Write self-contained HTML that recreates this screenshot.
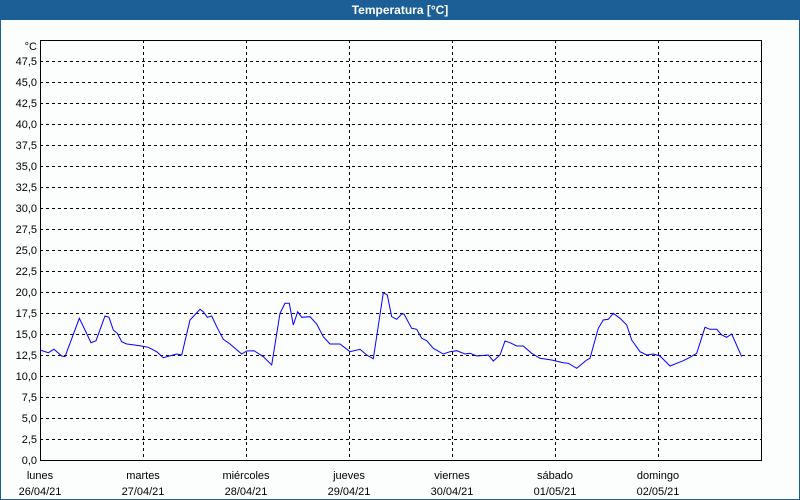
<!DOCTYPE html>
<html><head><meta charset="utf-8"><style>
body{margin:0;width:800px;height:500px;overflow:hidden;background:#fff;}
svg{display:block;font-family:"Liberation Sans",sans-serif;font-size:11px;}
</style></head><body>
<svg width="800" height="500" viewBox="0 0 800 500">
<rect x="0" y="0" width="800" height="500" fill="#fcfdfd"/>
<rect x="0.5" y="0.5" width="799" height="499" fill="none" stroke="#1c5f96" stroke-width="1"/>
<rect x="0" y="0" width="800" height="20" fill="#1c5f96"/>
<text x="400" y="14" text-anchor="middle" fill="#fff" font-weight="bold" font-size="12">Temperatura [°C]</text>
<g stroke="#000" stroke-dasharray="3,3" stroke-width="1">
<path d="M40 460.5H761M40 439.5H761M40 418.5H761M40 397.5H761M40 376.5H761M40 355.5H761M40 334.5H761M40 313.5H761M40 292.5H761M40 271.5H761M40 250.5H761M40 229.5H761M40 208.5H761M40 187.5H761M40 166.5H761M40 145.5H761M40 124.5H761M40 103.5H761M40 82.5H761M40 61.5H761"/>
<path d="M143.5 40V460M246.5 40V460M349.5 40V460M452.5 40V460M555.5 40V460M658.5 40V460"/>
</g>
<g stroke="#000" stroke-width="1" fill="none">
<path d="M40.5 40V461M40 40.5H762M761.5 40V461M40 460.5H762"/>
</g>
<g text-anchor="end" fill="#000">
<text x="37" y="50">°C</text>
<text x="37" y="65">47,5</text><text x="37" y="86">45,0</text><text x="37" y="107">42,5</text><text x="37" y="128">40,0</text><text x="37" y="149">37,5</text><text x="37" y="170">35,0</text><text x="37" y="191">32,5</text><text x="37" y="212">30,0</text><text x="37" y="233">27,5</text><text x="37" y="254">25,0</text><text x="37" y="275">22,5</text><text x="37" y="296">20,0</text><text x="37" y="317">17,5</text><text x="37" y="338">15,0</text><text x="37" y="359">12,5</text><text x="37" y="380">10,0</text><text x="37" y="401">7,5</text><text x="37" y="422">5,0</text><text x="37" y="443">2,5</text><text x="37" y="464">0,0</text>
</g>
<g text-anchor="middle" fill="#000">
<text x="40" y="479">lunes</text><text x="40" y="495">26/04/21</text>
<text x="143" y="479">martes</text><text x="143" y="495">27/04/21</text>
<text x="246" y="479">miércoles</text><text x="246" y="495">28/04/21</text>
<text x="349" y="479">jueves</text><text x="349" y="495">29/04/21</text>
<text x="452" y="479">viernes</text><text x="452" y="495">30/04/21</text>
<text x="555" y="479">sábado</text><text x="555" y="495">01/05/21</text>
<text x="658" y="479">domingo</text><text x="658" y="495">02/05/21</text>
</g>
<polyline fill="none" stroke="#0000ff" stroke-width="1" points="40,350 48.3,352.7 54,349.3 61.7,356 65,356.7 79.3,318.3 85,330 91,342.7 96,340.7 105,316 109,317.3 113.3,330 117.3,333.3 121.7,341.7 126.7,344 140,345.7 148.3,347.3 156.7,351.7 163.3,357.7 176.7,354 181.7,355 190,320 200,309.3 203.3,311.7 207.3,317.3 211.7,316 216.7,326.7 223.3,339.3 230,344 241.7,354 246.7,351 254,350.7 263.3,356.7 271.7,365 280,313.3 285,303.3 289.3,303.3 293.3,325 297.7,311.7 301.7,317.3 310,316.7 316.7,324 323.3,336.7 330,344 340,344 350,351.7 360,349.3 366.7,355 373.3,358.7 383.3,292.7 387.3,295 391.7,316.7 396.7,319.3 401.7,314 404,314 411.7,328.3 416.7,329.3 421.7,338.3 426.7,340.7 433.3,348.3 443.3,354 450,351.7 456.7,350.7 465,354 470,353.3 476.7,356 488.3,355 493.3,361 500,355 505,341 510,342.7 516.7,346 523.3,346 531.7,353.3 540,358.3 551.7,360 563.3,362.7 568.3,363.3 576.7,368.3 586.7,360 590,358.3 598.3,328.3 603.3,320 608.3,319.3 613.3,313.3 620,318.3 626.7,325 631.7,340 640,351.7 646.7,355 653.3,354 660,356 670,366 676.7,363.3 683.3,360.7 690,357.3 696.7,353.3 705,327.3 710,329.3 716.7,329.3 721.7,335 726.7,337.3 731.7,334 741.7,356.7"/>
</svg>
</body></html>
